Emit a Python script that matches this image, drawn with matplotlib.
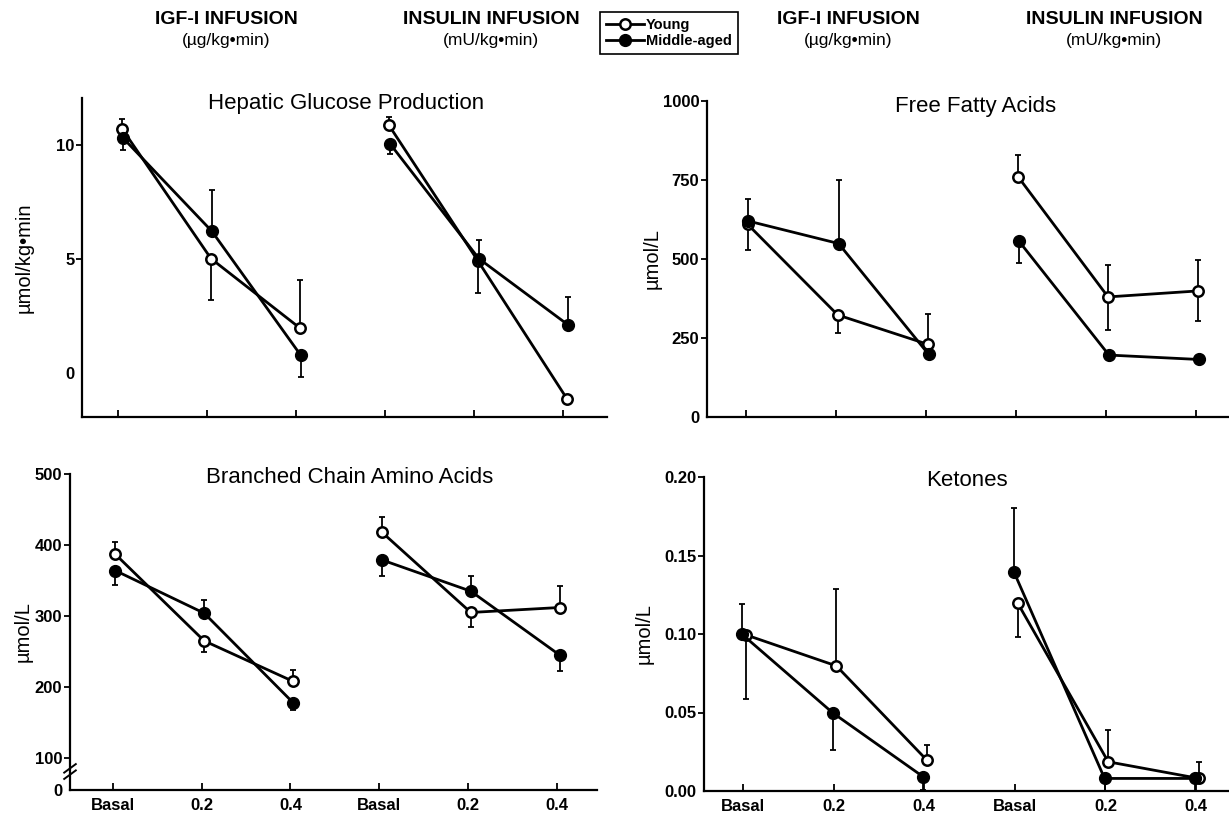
import numpy as np
import matplotlib
matplotlib.use('Agg')
import matplotlib.pyplot as plt
from matplotlib.lines import Line2D

plt.rcParams['font.family'] = ['Liberation Sans', 'DejaVu Sans']

doses = ['Basal', '0.2', '0.4', 'Basal', '0.2', '0.4']

# hepatic glucose production, umol/kg.min (IGF-I x3, then insulin x3)
hgp_young = [10.7, 5.0, 1.95, 10.85, 4.9, -1.15]
hgp_young_lo = [0, 1.8, 0, 0, 1.4, 0]
hgp_young_hi = [0.45, 0, 2.1, 0.35, 0, 0]
hgp_mid = [10.3, 6.2, 0.75, 10.05, 5.0, 2.1]
hgp_mid_lo = [0.55, 0, 0.95, 0.45, 0, 0]
hgp_mid_hi = [0, 1.8, 0, 0, 0.8, 1.2]

# free fatty acids, umol/L
ffa_young = [610, 323, 230, 761, 380, 399]
ffa_young_lo = [83, 56, 0, 0, 105, 95]
ffa_young_hi = [0, 0, 95, 68, 101, 98]
ffa_mid = [620, 549, 198, 557, 196, 182]
ffa_mid_lo = [0, 0, 0, 69, 0, 0]
ffa_mid_hi = [69, 201, 0, 0, 0, 0]

# branched chain amino acids, umol/L
bcaa_young = [387, 265, 208, 418, 305, 312]
bcaa_young_lo = [0, 16, 0, 0, 21, 0]
bcaa_young_hi = [17, 0, 16, 21, 0, 30]
bcaa_mid = [364, 304, 178, 379, 335, 245]
bcaa_mid_lo = [21, 0, 11, 22, 0, 22]
bcaa_mid_hi = [0, 19, 0, 0, 22, 0]

# ketones, umol/L
ket_young = [0.0995, 0.0797, 0.0196, 0.1198, 0.0186, 0.008]
ket_young_lo = [0.041, 0, 0, 0.0217, 0, 0]
ket_young_hi = [0, 0.049, 0.0099, 0, 0.02, 0.0106]
ket_mid = [0.0998, 0.0498, 0.009, 0.1395, 0.008, 0.008]
ket_mid_lo = [0, 0.024, 0.0085, 0, 0.008, 0.008]
ket_mid_hi = [0.019, 0, 0, 0.0405, 0, 0]

W, H = 1229, 816


def rect(x0, y0, x1, y1):
    return [x0 / W, 1 - y1 / H, (x1 - x0) / W, (y1 - y0) / H]


panels = [
    dict(title='Hepatic Glucose Production', rect=rect(82, 98, 607, 417),
         xlim=(-0.41, 5.49), ylim=(-1.95, 12.05), yticks=[0, 5, 10],
         ylabels=['0', '5', '10'], ylabel='\u00b5mol/kg\u2022min', ylx=-0.092,
         tpos=(0.503, 0.984), shift=(0.04, 0.05), bottom=False,
         data=(hgp_young, hgp_young_lo, hgp_young_hi, hgp_mid, hgp_mid_lo, hgp_mid_hi)),
    dict(title='Free Fatty Acids', rect=rect(707, 101, 1236, 417),
         xlim=(-0.43, 5.44), ylim=(0, 1000), yticks=[0, 250, 500, 750, 1000],
         ylabels=['0', '250', '500', '750', '1000'], ylabel='\u00b5mol/L', ylx=-0.086,
         tpos=(0.507, 0.984), shift=(0.02, 0.03), bottom=False,
         data=(ffa_young, ffa_young_lo, ffa_young_hi, ffa_mid, ffa_mid_lo, ffa_mid_hi)),
    dict(title='Branched Chain Amino Acids', rect=rect(70, 474, 597, 790),
         xlim=(-0.48, 5.45), ylim=(55, 500), yticks=[55, 100, 200, 300, 400, 500],
         ylabels=['0', '100', '200', '300', '400', '500'], ylabel='\u00b5mol/L', ylx=-0.071,
         tpos=(0.531, 0.99), shift=(0.03, 0.03), bottom=True,
         data=(bcaa_young, bcaa_young_lo, bcaa_young_hi, bcaa_mid, bcaa_mid_lo, bcaa_mid_hi)),
    dict(title='Ketones', rect=rect(704, 477, 1236, 791),
         xlim=(-0.43, 5.44), ylim=(0, 0.2), yticks=[0, 0.05, 0.10, 0.15, 0.20],
         ylabels=['0.00', '0.05', '0.10', '0.15', '0.20'], ylabel='\u00b5mol/L', ylx=-0.095,
         tpos=(0.494, 0.99), shift=(0.03, -0.01), bottom=True,
         data=(ket_young, ket_young_lo, ket_young_hi, ket_mid, ket_mid_lo, ket_mid_hi)),
]

fig = plt.figure(figsize=(W / 100, H / 100), dpi=100)

young_style = dict(color='k', lw=2.0, marker='o', ms=7.5, mfc='white', mec='k', mew=1.8)
mid_style = dict(color='k', lw=2.0, marker='o', ms=8.5, mfc='k', mec='k', mew=1.0)

for p in panels:
    ax = fig.add_axes(p['rect'])
    yv, ylo, yhi, mv, mlo, mhi = [np.array(a, dtype=float) for a in p['data']]
    pos = np.arange(len(doses))
    xy = pos + p['shift'][0]
    xm = pos + p['shift'][1]

    ax.errorbar(xy, yv, yerr=[ylo, yhi], fmt='none', ecolor='k', elinewidth=1.3,
                capsize=2.3, capthick=1.3, zorder=2)
    ax.errorbar(xm, mv, yerr=[mlo, mhi], fmt='none', ecolor='k', elinewidth=1.3,
                capsize=2.3, capthick=1.3, zorder=2)
    for seg in (slice(0, 3), slice(3, 6)):
        ax.plot(xy[seg], yv[seg], zorder=3, **young_style)
        ax.plot(xm[seg], mv[seg], zorder=4, **mid_style)

    ax.set_xlim(*p['xlim'])
    ax.set_ylim(*p['ylim'])
    for s in ('top', 'right'):
        ax.spines[s].set_visible(False)
    for s in ('left', 'bottom'):
        ax.spines[s].set_linewidth(1.6)

    ax.set_xticks(pos)
    if p['bottom']:
        ax.set_xticklabels(doses, fontweight='bold', fontsize=12)
    else:
        ax.set_xticklabels([])
    ax.tick_params(axis='x', direction='in', length=5, width=1.3, pad=6)

    ax.set_yticks(p['yticks'])
    ax.set_yticklabels(p['ylabels'], fontweight='bold', fontsize=12)
    ax.tick_params(axis='y', direction='out', length=4, width=1.3, pad=1.5)
    ax.yaxis.get_major_ticks()[0].tick1line.set_visible(False)

    ax.set_ylabel(p['ylabel'], fontsize=14.5)
    ax.yaxis.set_label_coords(p['ylx'], 0.5)

    ax.text(p['tpos'][0], p['tpos'][1], p['title'], transform=ax.transAxes,
            ha='center', va='center', fontsize=16)

    if p['title'].startswith('Branched'):
        # axis break marks
        for dy in (0.0, 0.02):
            ax.plot([-0.011, 0.011], [0.035 + dy, 0.062 + dy], color='k', lw=1.4,
                    transform=ax.transAxes, clip_on=False)

# infusion headers
headers = [('IGF-I INFUSION', '(\u00b5g/kg\u2022min)', 226),
           ('INSULIN INFUSION', '(mU/kg\u2022min)', 491),
           ('IGF-I INFUSION', '(\u00b5g/kg\u2022min)', 848),
           ('INSULIN INFUSION', '(mU/kg\u2022min)', 1114)]
for head, unit, xc in headers:
    fig.text(xc / W, 1 - 19 / H, head, ha='center', va='center', fontsize=14, fontweight='bold')
    fig.text(xc / W, 1 - 40 / H, unit, ha='center', va='center', fontsize=12.5)

handles = [Line2D([], [], **young_style), Line2D([], [], **mid_style)]
leg = fig.legend(handles, ['Young', 'Middle-aged'], loc='upper left',
                 bbox_to_anchor=(600 / W, 1 - 12 / H), frameon=True, fancybox=False,
                 edgecolor='k', framealpha=1, prop={'weight': 'bold', 'size': 10.5},
                 handlelength=2.6, handletextpad=0.15, borderpad=0.4,
                 labelspacing=0.15, borderaxespad=0)
leg.get_frame().set_linewidth(1.2)

fig.savefig('out.png', dpi=100)
